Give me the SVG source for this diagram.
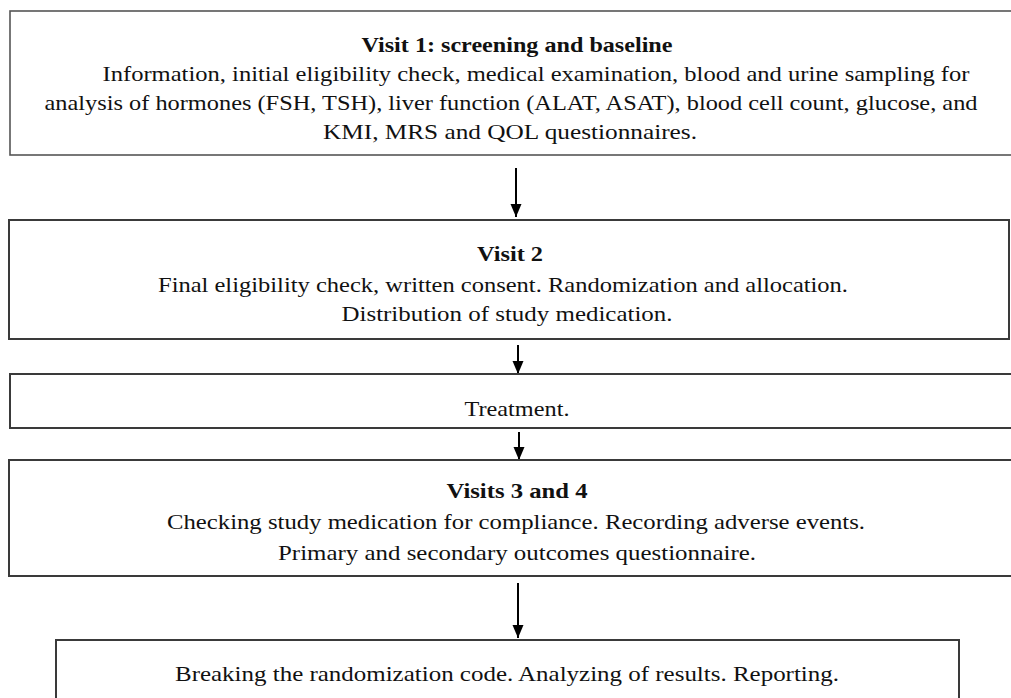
<svg xmlns="http://www.w3.org/2000/svg" width="1011" height="698" viewBox="0 0 1011 698">
<style>
.box{fill:#fff;stroke:#3a3a3a;stroke-width:2}
.t{font-family:"Liberation Serif","DejaVu Serif",serif;font-size:22px;fill:#111;text-anchor:middle}
.b{font-weight:bold}
.c{stroke:#000;stroke-width:2;fill:none;marker-end:url(#ah)}
</style>
<defs>
<marker id="ah" markerUnits="userSpaceOnUse" markerWidth="14" markerHeight="12" refX="13" refY="5.5" orient="auto" viewBox="0 0 14 12">
<path d="M0,0 L13,5.5 L0,11 z" fill="#000"/>
</marker>
</defs>
<rect width="1011" height="698" fill="#fff"/>
<g id="connectors">
<line class="c" x1="516" y1="168" x2="516" y2="217"/>
<line class="c" x1="518" y1="345" x2="518" y2="374"/>
<line class="c" x1="519" y1="432" x2="519" y2="460"/>
<line class="c" x1="518" y1="583" x2="518" y2="638"/>
</g>
<g id="visit1">
<rect class="box" x="10" y="11" width="1010" height="144" style="stroke:#555;stroke-width:1.6"/>
<text class="t b" x="517" y="52" textLength="311" lengthAdjust="spacingAndGlyphs">Visit 1: screening and baseline</text>
<text class="t" x="536" y="81" textLength="867" lengthAdjust="spacingAndGlyphs">Information, initial eligibility check, medical examination, blood and urine sampling for</text>
<text class="t" x="511" y="110" textLength="933" lengthAdjust="spacingAndGlyphs">analysis of hormones (FSH, TSH), liver function (ALAT, ASAT), blood cell count, glucose, and</text>
<text class="t" x="510" y="139" textLength="374" lengthAdjust="spacingAndGlyphs">KMI, MRS and QOL questionnaires.</text>
</g>
<g id="visit2">
<rect class="box" x="9" y="220" width="1000" height="119"/>
<text class="t b" x="510" y="261" textLength="66" lengthAdjust="spacingAndGlyphs">Visit 2</text>
<text class="t" x="503" y="292" textLength="690" lengthAdjust="spacingAndGlyphs">Final eligibility check, written consent. Randomization and allocation.</text>
<text class="t" x="507" y="321" textLength="331" lengthAdjust="spacingAndGlyphs">Distribution of study medication.</text>
</g>
<g id="treatment">
<rect class="box" x="10" y="374" width="1010" height="54"/>
<text class="t" x="517" y="416" textLength="105" lengthAdjust="spacingAndGlyphs">Treatment.</text>
</g>
<g id="visits34">
<rect class="box" x="9" y="460" width="1011" height="116"/>
<text class="t b" x="517" y="498" textLength="141" lengthAdjust="spacingAndGlyphs">Visits 3 and 4</text>
<text class="t" x="516" y="529" textLength="698" lengthAdjust="spacingAndGlyphs">Checking study medication for compliance. Recording adverse events.</text>
<text class="t" x="517" y="560" textLength="478" lengthAdjust="spacingAndGlyphs">Primary and secondary outcomes questionnaire.</text>
</g>
<g id="final">
<rect class="box" x="56" y="640" width="903" height="70"/>
<text class="t" x="507" y="681" textLength="664" lengthAdjust="spacingAndGlyphs">Breaking the randomization code. Analyzing of results. Reporting.</text>
</g>
</svg>
